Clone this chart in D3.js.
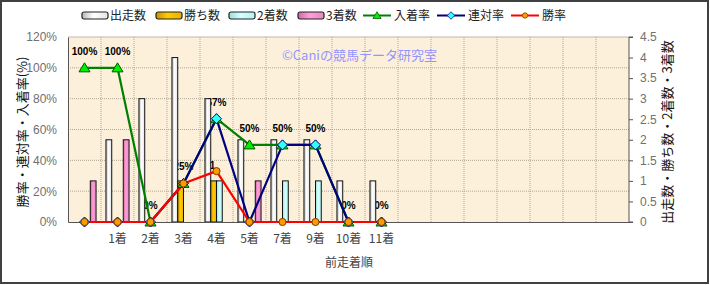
<!DOCTYPE html>
<html>
<head>
<meta charset="utf-8">
<script src="https://cdn.jsdelivr.net/npm/d3@7"></script>
<style>
  body { margin: 0; background: #fff; }
  text { font-family: "Liberation Sans", Arial, "Noto Sans CJK JP", sans-serif; }
  .jp { font-family: "Noto Sans CJK JP", sans-serif; }
</style>
</head>
<body>
<div id="wrapper"></div>
<script>
// categories (17 slots, only the first 10 carry data)
const categories = ["", "1着", "2着", "3着", "4着", "5着", "7着", "9着", "10着", "11着", "", "", "", "", "", "", ""];

// bar series (right axis)
const runs    = [0, 2, 3, 4, 3, 2, 2, 2, 1, 1];
const wins    = [0, 0, 0, 1, 1, 0, 0, 0, 0, 0];
const seconds = [0, 0, 0, 0, 1, 0, 1, 1, 0, 0];
const thirds  = [1, 2, 0, 0, 0, 1, 0, 0, 0, 0];

// line series (left axis, %)
const placeRate  = [100, 100, 0, 25, 67, 50, 50, 50, 0, 0];
const rentaiRate = [0, 0, 0, 25, 67, 0, 50, 50, 0, 0];
const winRate    = [0, 0, 0, 25, 33, 0, 0, 0, 0, 0];

const leftTicks  = [0, 20, 40, 60, 80, 100, 120];
const rightTicks = [0, 0.5, 1, 1.5, 2, 2.5, 3, 3.5, 4, 4.5];

const barSeries = [
  { name: "出走数", values: runs,    fill: "url(#gWhite)" },
  { name: "勝ち数", values: wins,    fill: "url(#gGold)" },
  { name: "2着数",  values: seconds, fill: "url(#gCyan)" },
  { name: "3着数",  values: thirds,  fill: "url(#gPink)" },
];
const lineSeries = [
  { name: "入着率", values: placeRate,  stroke: "#008000", marker: "triangle", mfill: "#00ee00", mstroke: "#005500" },
  { name: "連対率", values: rentaiRate, stroke: "#000080", marker: "diamond",  mfill: "#33ffff", mstroke: "#000080" },
  { name: "勝率",   values: winRate,    stroke: "#ff0000", marker: "circle",   mfill: "#ff9900", mstroke: "#7a3d00" },
];

const drawChart = () => {
  let dimensions = {
    width: 710,
    height: 285,
    margins: { top: 37, right: 81, bottom: 63, left: 68 },
  };
  dimensions.boundedWidth = dimensions.width - dimensions.margins.left - dimensions.margins.right;
  dimensions.boundedHeight = dimensions.height - dimensions.margins.top - dimensions.margins.bottom;

  const wrapper = d3.select("#wrapper")
    .append("svg")
      .attr("width", dimensions.width)
      .attr("height", dimensions.height);

  // gradients for the bars
  const defs = wrapper.append("defs");
  const grad = (id, stops) => {
    const g = defs.append("linearGradient").attr("id", id)
      .attr("x1", "0").attr("x2", "1").attr("y1", "0").attr("y2", "0");
    stops.forEach(([o, c]) => g.append("stop").attr("offset", o).attr("stop-color", c));
  };
  grad("gWhite", [[0, "#b8b8b8"], [0.45, "#ffffff"], [1, "#e4e4e4"]]);
  grad("gGold",  [[0, "#c89000"], [0.45, "#ffcc00"], [1, "#e8b000"]]);
  grad("gCyan",  [[0, "#9adede"], [0.45, "#d4ffff"], [1, "#b8f0f0"]]);
  grad("gPink",  [[0, "#cc6aa8"], [0.45, "#ff9fd6"], [1, "#e888c4"]]);

  // outer frame
  wrapper.append("rect")
    .attr("x", 1).attr("y", 1)
    .attr("width", 707).attr("height", 282)
    .attr("fill", "#fff").attr("stroke", "#404040").attr("stroke-width", 2);

  const bounds = wrapper.append("g")
    .attr("transform", `translate(${dimensions.margins.left},${dimensions.margins.top})`);

  const xScale = d3.scaleBand()
    .domain(d3.range(categories.length))
    .range([0, dimensions.boundedWidth])
    .padding(0);
  const bw = xScale.bandwidth();
  const xInner = d3.scaleBand()
    .domain(d3.range(barSeries.length))
    .range([bw * 0.15, bw * 0.85])
    .padding(0);
  const yLeft = d3.scaleLinear().domain([0, 120]).range([dimensions.boundedHeight, 0]);
  const yRight = d3.scaleLinear().domain([0, 4.5]).range([dimensions.boundedHeight, 0]);
  const cx = (i) => xScale(i) + bw / 2;

  // plot background
  bounds.append("rect")
    .attr("width", dimensions.boundedWidth)
    .attr("height", dimensions.boundedHeight)
    .attr("fill", "#fcf0da");

  // grid
  bounds.append("g").selectAll("line")
    .data(leftTicks.slice(1))
    .join("line")
      .attr("x1", 0).attr("x2", dimensions.boundedWidth)
      .attr("y1", d => yLeft(d)).attr("y2", d => yLeft(d))
      .attr("stroke", d => d === 120 ? "#b8b8b8" : "#b0a696")
      .attr("stroke-width", 1)
      .attr("stroke-dasharray", d => d === 120 ? null : "1,1");
  bounds.append("g").selectAll("line")
    .data(d3.range(1, categories.length))
    .join("line")
      .attr("x1", d => xScale(d)).attr("x2", d => xScale(d))
      .attr("y1", 0).attr("y2", dimensions.boundedHeight)
      .attr("stroke", "#b0a696")
      .attr("stroke-dasharray", "1,1");

  // watermark
  bounds.append("text")
    .attr("class", "jp")
    .attr("x", 214).attr("y", 23)
    .attr("fill", "#9494ff")
    .attr("font-size", 13)
    .text("©Caniの競馬データ研究室");

  // data labels (drawn under the bars, as in the source)
  const labels = bounds.append("g")
    .attr("font-size", 10).attr("font-weight", "bold").attr("text-anchor", "middle").attr("fill", "#000");
  labels.selectAll("text.rate")
    .data(placeRate)
    .join("text")
      .attr("class", "rate")
      .attr("x", (d, i) => cx(i))
      .attr("y", d => yLeft(d) - 13)
      .text(d => d + "%");
  labels.selectAll("text.win")
    .data(wins.map((v, i) => ({ v, i })).filter(d => d.v > 0 && d.i === 4))
    .join("text")
      .attr("class", "win")
      .attr("x", d => xScale(d.i) + xInner(1) + xInner.bandwidth() / 2 - 1)
      .attr("y", d => yRight(d.v) - 12)
      .text(d => d.v);

  // bars
  barSeries.forEach((s, si) => {
    bounds.append("g").selectAll("rect")
      .data(s.values.map((v, i) => ({ v, i })).filter(d => d.v > 0))
      .join("rect")
        .attr("x", d => xScale(d.i) + xInner(si))
        .attr("y", d => yRight(d.v))
        .attr("width", xInner.bandwidth())
        .attr("height", d => dimensions.boundedHeight - yRight(d.v))
        .attr("fill", s.fill)
        .attr("stroke", "#111")
        .attr("stroke-width", 1);
  });

  // axes
  const leftAxis = d3.axisLeft(yLeft).tickValues(leftTicks).tickSize(0).tickPadding(11).tickFormat(d => d + "%");
  const gl = bounds.append("g").call(leftAxis);
  gl.select(".domain").attr("stroke", "#555");
  gl.selectAll("text").attr("font-size", 12).attr("fill", "#707070")
    .attr("font-family", "'Liberation Sans', Arial, sans-serif");

  const rightAxis = d3.axisRight(yRight).tickValues(rightTicks).tickSize(4).tickPadding(7).tickFormat(d => d);
  const gr = bounds.append("g")
    .attr("transform", `translate(${dimensions.boundedWidth},0)`)
    .call(rightAxis);
  gr.selectAll("path.domain, line").attr("stroke", "#555");
  gr.select(".domain").attr("d", `M4,0H0V${dimensions.boundedHeight}H4`);
  gr.selectAll("text").attr("font-size", 12).attr("fill", "#707070")
    .attr("font-family", "'Liberation Sans', Arial, sans-serif");

  const bottomAxis = d3.axisBottom(xScale).tickSize(0).tickPadding(12).tickFormat(i => categories[i]);
  const gb = bounds.append("g")
    .attr("transform", `translate(0,${dimensions.boundedHeight})`)
    .call(bottomAxis);
  gb.select(".domain").attr("stroke", "#555");
  gb.selectAll("text").attr("class", "jp").attr("font-size", 12).attr("fill", "#444");

  // lines + markers
  const lineGenerator = (ys) => d3.line()
    .x((d, i) => cx(i))
    .y(d => yLeft(d))(ys);
  lineSeries.forEach(s => {
    bounds.append("path")
      .attr("d", lineGenerator(s.values))
      .attr("fill", "none")
      .attr("stroke", s.stroke)
      .attr("stroke-width", 2.2)
      .attr("stroke-linejoin", "round");
  });
  const markerPath = (type) => {
    if (type === "triangle") return "M0,-5L5.5,4L-5.5,4Z";
    if (type === "diamond") return "M0,-5L5,0L0,5L-5,0Z";
    return d3.symbol(d3.symbolCircle, 40)();
  };
  lineSeries.forEach(s => {
    bounds.append("g").selectAll("path")
      .data(s.values)
      .join("path")
        .attr("transform", (d, i) => `translate(${cx(i)},${yLeft(d)})`)
        .attr("d", markerPath(s.marker))
        .attr("fill", s.mfill)
        .attr("stroke", s.mstroke)
        .attr("stroke-width", 1);
  });

  // axis titles
  wrapper.append("text")
    .attr("class", "jp")
    .attr("transform", `translate(27,132) rotate(-90)`)
    .attr("text-anchor", "middle")
    .attr("font-size", 13)
    .attr("fill", "#111")
    .text("勝率・連対率・入着率(%)");
  wrapper.append("text")
    .attr("class", "jp")
    .attr("transform", `translate(672,132) rotate(-90)`)
    .attr("text-anchor", "middle")
    .attr("font-size", 13)
    .attr("fill", "#111")
    .text("出走数・勝ち数・2着数・3着数");
  wrapper.append("text")
    .attr("class", "jp")
    .attr("x", 349).attr("y", 267)
    .attr("text-anchor", "middle")
    .attr("font-size", 12)
    .attr("fill", "#444")
    .text("前走着順");

  // legend
  const legend = wrapper.append("g").attr("font-size", 12).attr("class", "jp");
  const barLegendX = [82, 156, 229, 298];
  barSeries.forEach((s, i) => {
    const g = legend.append("g").attr("transform", `translate(${barLegendX[i]},12)`);
    g.append("rect")
      .attr("width", 26).attr("height", 7).attr("rx", 2)
      .attr("fill", s.fill).attr("stroke", "#222").attr("stroke-width", 1.2);
    g.append("text").attr("class", "jp").attr("x", 28).attr("y", 8).attr("fill", "#222").text(s.name);
  });
  const lineLegendX = [363, 437, 511];
  lineSeries.forEach((s, i) => {
    const g = legend.append("g").attr("transform", `translate(${lineLegendX[i]},15.5)`);
    g.append("line").attr("x1", 0).attr("x2", 28).attr("stroke", s.stroke).attr("stroke-width", 2);
    g.append("path")
      .attr("transform", "translate(14,0) scale(0.75)")
      .attr("d", markerPath(s.marker))
      .attr("fill", s.mfill).attr("stroke", s.mstroke);
    g.append("text").attr("class", "jp").attr("x", 31).attr("y", 4.5).attr("fill", "#222").text(s.name);
  });
};

drawChart();
</script>
</body>
</html>
